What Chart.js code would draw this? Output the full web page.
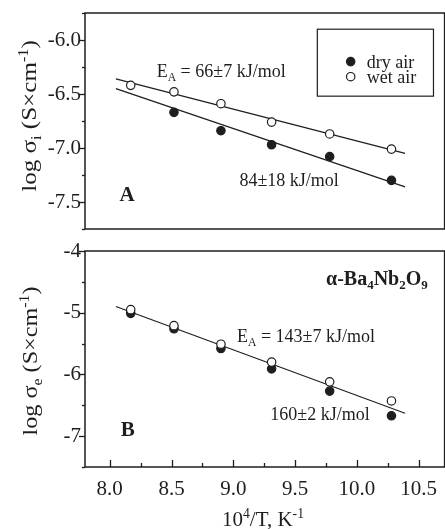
<!DOCTYPE html>
<html>
<head>
<meta charset="utf-8">
<script src="https://cdn.jsdelivr.net/npm/chart.js@4.4.1/dist/chart.umd.min.js"></script>
<style>
html, body { margin: 0; padding: 0; background: #fff; overflow: hidden; width: 445px; height: 529px; }
#wrapA { position: absolute; left: 0; top: 0; width: 450px; height: 240px; }
#wrapB { position: absolute; left: 0; top: 240px; width: 450px; height: 289px; }
</style>
</head>
<body>
<div id="wrapA"><canvas id="chartA"></canvas></div>
<div id="wrapB"><canvas id="chartB"></canvas></div>
<script>
"use strict";

// 10^4/T, K^-1
const invTemp = [8.17, 8.52, 8.90, 9.31, 9.78, 10.28];

// panel A : log sigma_i
const ionWet = [-6.42, -6.48, -6.59, -6.76, -6.87, -7.01];
const ionDry = [null, -6.67, -6.84, -6.97, -7.08, -7.30];
const fitX = [8.05, 10.39];
const ionWetFit = [-6.36, -7.05];
const ionDryFit = [-6.45, -7.36];

// panel B : log sigma_e
const elecWet = [-4.95, -5.21, -5.51, -5.80, -6.12, -6.43];
const elecDry = [-5.01, -5.26, -5.58, -5.91, -6.27, -6.67];
const elecFit = [-4.90, -6.63];

const legendLabels = ["dry air", "wet air"];

const FONT = "'Liberation Serif', 'Times New Roman', serif";
const INK = "#1e1e1e";

const toPts = (xs, ys) => xs.map((x, i) => ({ x: x, y: ys[i] })).filter(p => p.y !== null);

// text with sub / superscripts: parts = [[text, mode], ...]
function richWidth(ctx, parts, size, bold) {
    let w = 0;
    for (const p of parts) {
        const s = p[1] ? size * 0.65 : size;
        ctx.font = (bold ? "bold " : "") + s + "px " + FONT;
        w += ctx.measureText(p[0]).width;
    }
    return w;
}
function drawRich(ctx, parts, x, y, size, bold, align) {
    ctx.save();
    ctx.fillStyle = INK;
    ctx.textBaseline = "alphabetic";
    ctx.textAlign = "left";
    let cx = x;
    if (align === "center") cx = x - richWidth(ctx, parts, size, bold) / 2;
    for (const p of parts) {
        const s = p[1] ? size * 0.65 : size;
        ctx.font = (bold ? "bold " : "") + s + "px " + FONT;
        let dy = 0;
        if (p[1] === "sub") dy = size * 0.22;
        if (p[1] === "sup") dy = -size * 0.38;
        ctx.fillText(p[0], cx, y + dy);
        cx += ctx.measureText(p[0]).width;
    }
    ctx.restore();
}

// axis frame and tick marks: y ticks outward, x ticks inward
const framePlugin = {
    id: "frame",
    afterDraw: (chart, args, opts) => {
        const ctx = chart.ctx;
        const a = chart.chartArea;
        ctx.save();
        ctx.strokeStyle = INK;
        ctx.lineWidth = 1.5;
        ctx.strokeRect(a.left, a.top, a.right - a.left, a.bottom - a.top);
        ctx.lineWidth = 1.3;
        const ys = chart.scales.y;
        for (const t of ys.ticks) {
            const py = Math.round(ys.getPixelForValue(t.value)) + 0.5;
            const len = t.label !== "" ? 6 : 3;
            ctx.beginPath();
            ctx.moveTo(a.left, py);
            ctx.lineTo(a.left - len, py);
            ctx.stroke();
        }
        if (opts.xTicks) {
            const xs = chart.scales.x;
            for (const t of xs.ticks) {
                const px = Math.round(xs.getPixelForValue(t.value)) + 0.5;
                const len = t.label !== "" ? 7 : 4;
                ctx.beginPath();
                ctx.moveTo(px, a.bottom);
                ctx.lineTo(px, a.bottom - len);
                ctx.stroke();
            }
        }
        ctx.restore();
    }
};

// annotations, legend box, axis titles
const notesPlugin = {
    id: "notes",
    afterDraw: (chart, args, opts) => {
        const ctx = chart.ctx;
        const xs = chart.scales.x;
        const ys = chart.scales.y;
        for (const n of opts.items || []) {
            drawRich(ctx, n.parts, xs.getPixelForValue(n.x), ys.getPixelForValue(n.y), n.size, n.bold, "left");
        }
        if (opts.legend) {
            const L = opts.legend;
            const x0 = xs.getPixelForValue(L.x0), x1 = xs.getPixelForValue(L.x1);
            const y0 = ys.getPixelForValue(L.y0), y1 = ys.getPixelForValue(L.y1);
            ctx.save();
            ctx.fillStyle = "#fff";
            ctx.fillRect(x0, y0, x1 - x0, y1 - y0);
            ctx.strokeStyle = INK;
            ctx.lineWidth = 1.2;
            ctx.strokeRect(x0, y0, x1 - x0, y1 - y0);
            L.rows.forEach((r, i) => {
                const mx = xs.getPixelForValue(L.markX);
                const my = ys.getPixelForValue(r.y);
                ctx.beginPath();
                ctx.arc(mx, my, 4.2, 0, Math.PI * 2);
                ctx.fillStyle = r.filled ? INK : "#fff";
                ctx.fill();
                ctx.strokeStyle = INK;
                ctx.lineWidth = 1.2;
                ctx.stroke();
                drawRich(ctx, [[r.text, ""]], xs.getPixelForValue(L.textX), my + 6, 18, false, "left");
            });
            ctx.restore();
        }
        if (opts.yTitle) {
            const T = opts.yTitle;
            ctx.save();
            ctx.translate(T.cx, T.cy);
            ctx.rotate(-Math.PI / 2);
            ctx.scale(T.stretch || 1, 1);
            drawRich(ctx, T.parts, 0, 7, T.size, false, "center");
            ctx.restore();
        }
        if (opts.xTitle) {
            const T = opts.xTitle;
            drawRich(ctx, T.parts, T.cx, T.cy, T.size, false, "center");
        }
    }
};

Chart.register(framePlugin, notesPlugin);

const tickFont = { family: FONT, size: 21 };

// keep tick label overflow from pushing the plot area around
const noOverflow = s => { s.paddingTop = 0; s.paddingBottom = 0; s.paddingLeft = 0; s.paddingRight = 0; };

function yScale(min, max, step, isMajor, fmt) {
    return {
        min: min, max: max,
        grid: { display: false, drawTicks: false },
        border: { display: false },
        ticks: {
            stepSize: step, autoSkip: false, padding: 4,
            color: INK, font: tickFont,
            callback: v => isMajor(v) ? fmt(v) : ""
        },
        afterFit: s => { s.width = 85; noOverflow(s); }
    };
}

const near = (v, q) => Math.abs(v / q - Math.round(v / q)) < 1e-6;

function xScale(show) {
    return {
        type: "linear", min: 7.8, max: 10.71, display: show,
        grid: { display: false },
        border: { display: false },
        ticks: {
            stepSize: 0.25, autoSkip: false, includeBounds: false, padding: 2, maxRotation: 0,
            color: INK, font: tickFont,
            callback: v => near(v, 0.5) ? v.toFixed(1) : ""
        },
        afterFit: s => { s.height = show ? 62 : 0; noOverflow(s); }
    };
}

const openPt = { pointRadius: 4.2, pointBackgroundColor: "#fff", pointBorderColor: INK, pointBorderWidth: 1.2, showLine: false };
const fullPt = { pointRadius: 4.2, pointBackgroundColor: INK, pointBorderColor: INK, pointBorderWidth: 1.2, showLine: false };
const fitLine = { pointRadius: 0, borderColor: INK, borderWidth: 1.2, showLine: true, fill: false };

const baseOpts = {
    responsive: true, maintainAspectRatio: false, animation: false,
    plugins: { legend: { display: false }, tooltip: { enabled: false } }
};

new Chart(document.getElementById("chartA"), {
    type: "scatter",
    data: {
        datasets: [
            Object.assign({ label: legendLabels[1], data: toPts(invTemp, ionWet) }, openPt),
            Object.assign({ label: legendLabels[0], data: toPts(invTemp, ionDry) }, fullPt),
            Object.assign({ label: "fit wet", data: toPts(fitX, ionWetFit) }, fitLine),
            Object.assign({ label: "fit dry", data: toPts(fitX, ionDryFit) }, fitLine)
        ]
    },
    options: Object.assign({}, baseOpts, {
        layout: { padding: { top: 13, bottom: 11, right: 4, left: 0 } },
        scales: {
            x: xScale(false),
            y: yScale(-7.75, -5.75, 0.25, v => near(v, 0.5), v => v.toFixed(1))
        },
        plugins: Object.assign({}, baseOpts.plugins, {
            frame: { xTicks: false },
            notes: {
                items: [
                    { x: 8.38, y: -6.34, size: 18, parts: [["E", ""], ["A", "sub"], [" = 66\u00b17 kJ/mol", ""]] },
                    { x: 9.05, y: -7.35, size: 18, parts: [["84\u00b118 kJ/mol", ""]] },
                    { x: 8.08, y: -7.49, size: 21, bold: true, parts: [["A", ""]] }
                ],
                legend: {
                    x0: 9.68, x1: 10.62, y0: -5.90, y1: -6.52, markX: 9.95, textX: 10.08,
                    rows: [
                        { y: -6.20, filled: true, text: legendLabels[0] },
                        { y: -6.34, filled: false, text: legendLabels[1] }
                    ]
                },
                yTitle: { cx: 29, cy: 116, size: 22, stretch: 1.14,
                    parts: [["log \u03c3", ""], ["i", "sub"], [" (S\u00d7cm", ""], ["-1", "sup"], [")", ""]] }
            }
        })
    })
});

new Chart(document.getElementById("chartB"), {
    type: "scatter",
    data: {
        datasets: [
            Object.assign({ label: legendLabels[1], data: toPts(invTemp, elecWet) }, openPt),
            Object.assign({ label: legendLabels[0], data: toPts(invTemp, elecDry) }, fullPt),
            Object.assign({ label: "fit", data: toPts(fitX, elecFit) }, fitLine)
        ]
    },
    options: Object.assign({}, baseOpts, {
        layout: { padding: { top: 11, bottom: 0, right: 4, left: 0 } },
        scales: {
            x: xScale(true),
            y: yScale(-7.5, -4, 0.5, v => near(v, 1), v => v.toFixed(0))
        },
        plugins: Object.assign({}, baseOpts.plugins, {
            frame: { xTicks: true },
            notes: {
                items: [
                    { x: 9.75, y: -4.55, size: 20, bold: true, parts: [["\u03b1-Ba", ""], ["4", "sub"], ["Nb", ""], ["2", "sub"], ["O", ""], ["9", "sub"]] },
                    { x: 9.03, y: -5.47, size: 18, parts: [["E", ""], ["A", "sub"], [" = 143\u00b17 kJ/mol", ""]] },
                    { x: 9.30, y: -6.74, size: 18, parts: [["160\u00b12 kJ/mol", ""]] },
                    { x: 8.09, y: -6.99, size: 21, bold: true, parts: [["B", ""]] }
                ],
                yTitle: { cx: 30, cy: 121, size: 22, stretch: 1.1,
                    parts: [["log \u03c3", ""], ["e", "sub"], [" (S\u00d7cm", ""], ["-1", "sup"], [")", ""]] },
                xTitle: { cx: 263, cy: 286, size: 21,
                    parts: [["10", ""], ["4", "sup"], ["/T, K", ""], ["-1", "sup"]] }
            }
        })
    })
});
</script>
</body>
</html>
